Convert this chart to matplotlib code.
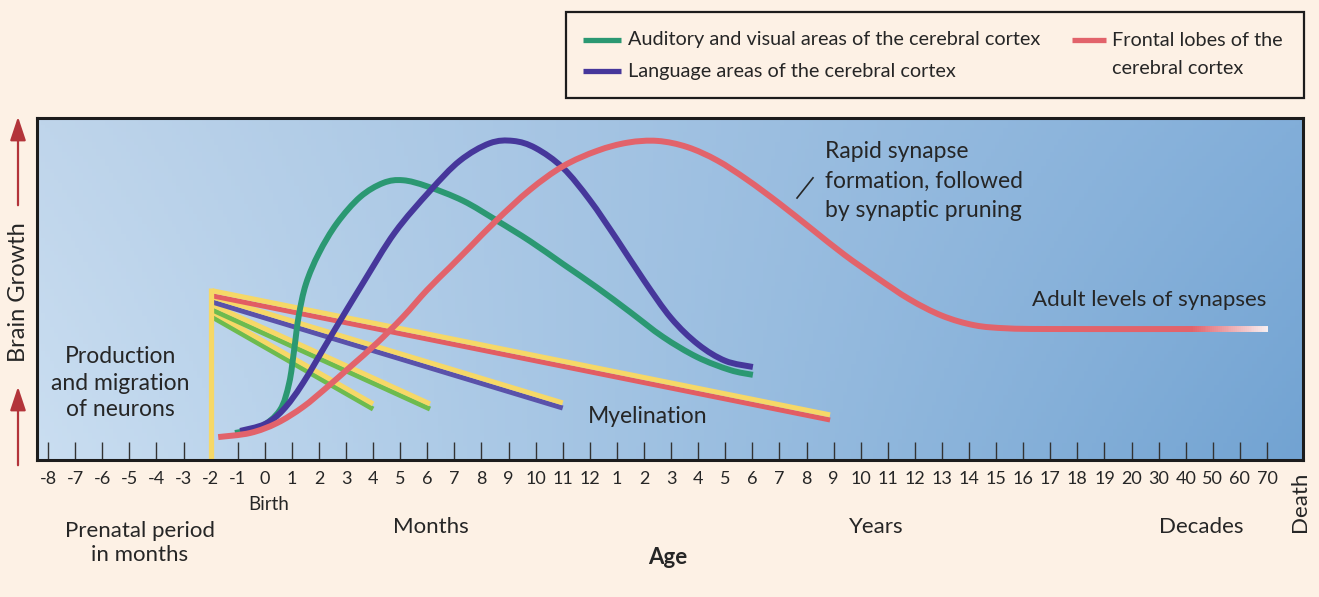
import numpy as np
import matplotlib.pyplot as plt
from matplotlib.lines import Line2D
from matplotlib.patches import FancyArrowPatch, Rectangle, PathPatch
from matplotlib.path import Path
from matplotlib.collections import LineCollection
from matplotlib.colors import to_rgb

plt.rcParams['font.family'] = ['Lato', 'DejaVu Sans']

# age axis: one tick per label, evenly spaced (prenatal months, months, years, decades)
AGE_LABELS = ([str(m) for m in range(-8, 0)] + [str(m) for m in range(0, 13)]
              + [str(y) for y in range(1, 21)] + ["30", "40", "50", "60", "70"])

# x values are positions on the age tick scale (0 = "-8"), y = relative brain growth (0-100)
GREEN_X = [6.90, 7.83, 8.56, 8.90, 9.08, 9.25, 9.52, 10.0, 10.67, 11.52, 12.37, 13.1,
           14.0, 15.32, 16.57, 17.79, 19.01, 20.27, 21.48, 22.70, 23.96, 25.18, 26.02]
GREEN_Y = [7.9, 9.6, 14.6, 22.5, 32.0, 42.0, 51.5, 60.5, 69.3, 76.9, 81.0, 81.8,
           80.0, 75.8, 70.0, 64.0, 57.3, 50.4, 43.3, 36.0, 30.1, 26.3, 24.9]

PURPLE_X = [7.09, 8.0, 8.67, 9.41, 10.5, 11.63, 12.8, 14.10, 15.2, 16.3, 17.17,
            18.0, 19.01, 20.0, 21.0, 22.0, 23.0, 24.0, 25.0, 26.02]
PURPLE_Y = [8.5, 10.5, 14.6, 22.5, 37.0, 51.8, 66.5, 78.7, 87.5, 92.6, 93.3,
            91.2, 85.4, 76.0, 64.5, 52.5, 41.5, 33.8, 29.0, 27.2]

RED_X = [6.28, 7.46, 8.45, 9.41, 10.30, 11.15, 12.14, 13.10, 13.99, 14.84, 15.58,
         16.57, 17.79, 19.01, 20.27, 21.4, 22.5, 23.6, 24.7, 25.8, 27.0, 28.2,
         29.4, 30.6, 31.8, 33.0, 34.2, 35.4, 37.0, 42.2]
RED_Y = [6.7, 7.9, 10.8, 15.5, 21.3, 27.2, 34.2, 41.8, 49.7, 56.4, 62.3,
         70.2, 79.0, 85.9, 90.4, 92.8, 93.3, 91.5, 87.6, 82.0, 75.0, 67.5,
         60.0, 53.3, 47.0, 42.2, 39.4, 38.5, 38.3, 38.3]
RED_END_X, RED_END_Y = 45.03, 38.3   # adult level fades out towards "70"

# myelination: straight lines from the "-2" marker, each with a yellow stripe
MYEL_COLORS = ["#6dbb4f", "#6dbb4f", "#5a52aa", "#e25d63"]
MYEL_X0 = [6.06, 6.06, 6.06, 6.06]
MYEL_Y0 = [41.8, 43.9, 46.2, 48.0]
MYEL_X1 = [12.0, 14.1, 19.0, 28.87]
MYEL_Y1 = [14.9, 14.9, 15.2, 11.7]
NEURON_X, NEURON_TOP = 6.0, 50.3

GREEN, PURPLE, RED, YELLOW = "#2b9872", "#46379b", "#e2636b", "#f6d867"
BG = "#fdf1e5"
TXT = "#262626"

W, H = 1319, 597


def fx(px):
    return px / W


def fy(py):
    return 1 - py / H


def smooth_path(xs, ys):
    # Catmull-Rom through the read points, drawn as cubic Bezier segments
    p = np.column_stack([xs, ys])
    ext = np.vstack([p[0], p, p[-1]])
    verts, codes = [p[0]], [Path.MOVETO]
    for i in range(1, len(ext) - 2):
        c1 = ext[i] + (ext[i + 1] - ext[i - 1]) / 6
        c2 = ext[i + 1] - (ext[i + 2] - ext[i]) / 6
        verts += [c1, c2, ext[i + 1]]
        codes += [Path.CURVE4] * 3
    return Path(verts, codes)


def draw_curve(ax, xs, ys, color, lw, z):
    ax.add_patch(PathPatch(smooth_path(xs, ys), fill=False, edgecolor=color, lw=lw,
                           capstyle="butt", joinstyle="round", zorder=z))


fig = plt.figure(figsize=(W / 100, H / 100), dpi=100, facecolor=BG)
ax = fig.add_axes([fx(37), fy(460), fx(1303) - fx(37), fy(118) - fy(460)])

# blue gradient background
tl, tr = np.array(to_rgb("#cadef1")), np.array(to_rgb("#72a3d2"))
bl, br = np.array(to_rgb("#bfd5eb")), np.array(to_rgb("#82aed9"))
u = np.linspace(0, 1, 300)[None, :, None]
v = np.linspace(0, 1, 100)[:, None, None]
grad = (1 - v) * ((1 - u) * tl + u * tr) + v * ((1 - u) * bl + u * br)
ax.imshow(grad, extent=[-0.41, 46.33, 100, 0], aspect="auto", zorder=0)
ax.set_xlim(-0.41, 46.33)
ax.set_ylim(0, 100)

# myelination lines with yellow stripe just above
lw_m = 3.6
for c, x0, y0, x1, y1 in zip(MYEL_COLORS, MYEL_X0, MYEL_Y0, MYEL_X1, MYEL_Y1):
    ax.plot([x0, x1], [y0, y1], color=c, lw=lw_m, solid_capstyle="butt", zorder=3)
    ax.plot([x0, x1], [y0 + 1.5, y1 + 1.5], color=YELLOW, lw=lw_m,
            solid_capstyle="butt", zorder=3)
ax.plot([NEURON_X, NEURON_X], [0, NEURON_TOP], color=YELLOW, lw=3.8,
        solid_capstyle="butt", zorder=3)

# synapse curves
lw_c = 4.3
draw_curve(ax, GREEN_X, GREEN_Y, GREEN, lw_c, 4)
draw_curve(ax, PURPLE_X, PURPLE_Y, PURPLE, lw_c, 5)
draw_curve(ax, RED_X, RED_Y, RED, lw_c, 6)
# fading tail of the frontal-lobe curve
n = 40
xs = np.linspace(RED_X[-1], RED_END_X, n + 1)
segs = [[(xs[i], RED_END_Y), (xs[i + 1], RED_END_Y)] for i in range(n)]
c0, c1 = np.array(to_rgb(RED)), np.array(to_rgb("#f7eef0"))
cols = [c0 + (c1 - c0) * (i / (n - 1)) for i in range(n)]
ax.add_collection(LineCollection(segs, colors=cols, linewidths=lw_c,
                                 capstyle="butt", zorder=6))

# annotations inside the plot
ax.text(2.66, 22.5, "Production\nand migration\nof neurons", ha="center", va="center",
        fontsize=16.5, color=TXT, linespacing=1.32, zorder=7)
ax.text(22.15, 12.6, "Myelination", ha="center", va="center", fontsize=16.5,
        color=TXT, zorder=7)
ax.text(28.68, 81.6, "Rapid synapse\nformation, followed\nby synaptic pruning",
        ha="left", va="center", fontsize=16.5, color=TXT, linespacing=1.5, zorder=7)
ax.plot([27.65, 28.24], [76.6, 82.5], color=TXT, lw=1.2, zorder=7)
ax.text(36.32, 46.8, "Adult levels of synapses", ha="left", va="center",
        fontsize=16, color=TXT, zorder=7)

# axis styling
ax.set_xticks(range(len(AGE_LABELS)))
ax.set_xticklabels(AGE_LABELS, fontsize=13, color=TXT)
ax.set_yticks([])
ax.tick_params(axis="x", direction="in", length=13, width=1, color="#333333", pad=8)
for s in ax.spines.values():
    s.set_linewidth(2.2)
    s.set_color("#1c1c1c")
    s.set_zorder(8)

# labels under the axis
fig.text(fx(269), fy(505), "Birth", ha="center", va="center", fontsize=13.5, color=TXT)
fig.text(fx(140), fy(543), "Prenatal period\nin months", ha="center", va="center",
         fontsize=16, color=TXT, linespacing=1.3)
fig.text(fx(431), fy(527), "Months", ha="center", va="center", fontsize=16, color=TXT)
fig.text(fx(876), fy(527), "Years", ha="center", va="center", fontsize=16, color=TXT)
fig.text(fx(1201), fy(527), "Decades", ha="center", va="center", fontsize=16, color=TXT)
fig.text(fx(668), fy(557), "Age", ha="center", va="center", fontsize=16,
         fontweight="bold", color=TXT)
fig.text(fx(1300), fy(502), "Death", ha="center", va="center", fontsize=16,
         rotation=90, color=TXT)

# vertical "Brain Growth" label with arrows
fig.text(fx(19), fy(292), "Brain Growth", ha="center", va="center", fontsize=17,
         rotation=90, color=TXT)
arrow_kw = dict(transform=fig.transFigure, arrowstyle="-|>,head_length=0.9,head_width=0.3",
                mutation_scale=16, color="#b3343a", lw=1.6)
fig.add_artist(FancyArrowPatch((fx(18), fy(208)), (fx(18), fy(114)), **arrow_kw))
fig.add_artist(FancyArrowPatch((fx(18), fy(468)), (fx(18), fy(384)), **arrow_kw))

# legend box
fig.add_artist(Rectangle((fx(566), fy(98)), fx(1304) - fx(566), fy(12) - fy(98),
                         transform=fig.transFigure, facecolor=BG, edgecolor="#1c1c1c", lw=1.6))
legend_items = [
    (GREEN, 583, 621, 40, ["Auditory and visual areas of the cerebral cortex"], 628),
    (PURPLE, 583, 621, 71, ["Language areas of the cerebral cortex"], 628),
    (RED, 1072, 1106, 40, ["Frontal lobes of the", "cerebral cortex"], 1112),
]
for color, x0, x1, yy, lines, tx in legend_items:
    fig.add_artist(Line2D([fx(x0), fx(x1)], [fy(yy), fy(yy)], transform=fig.transFigure,
                          color=color, lw=3.8, solid_capstyle="butt"))
    for k, line in enumerate(lines):
        fig.text(fx(tx), fy(yy + 28 * k), line, ha="left", va="center",
                 fontsize=14.3, color=TXT)

fig.savefig("out.png", dpi=100, facecolor=BG)
